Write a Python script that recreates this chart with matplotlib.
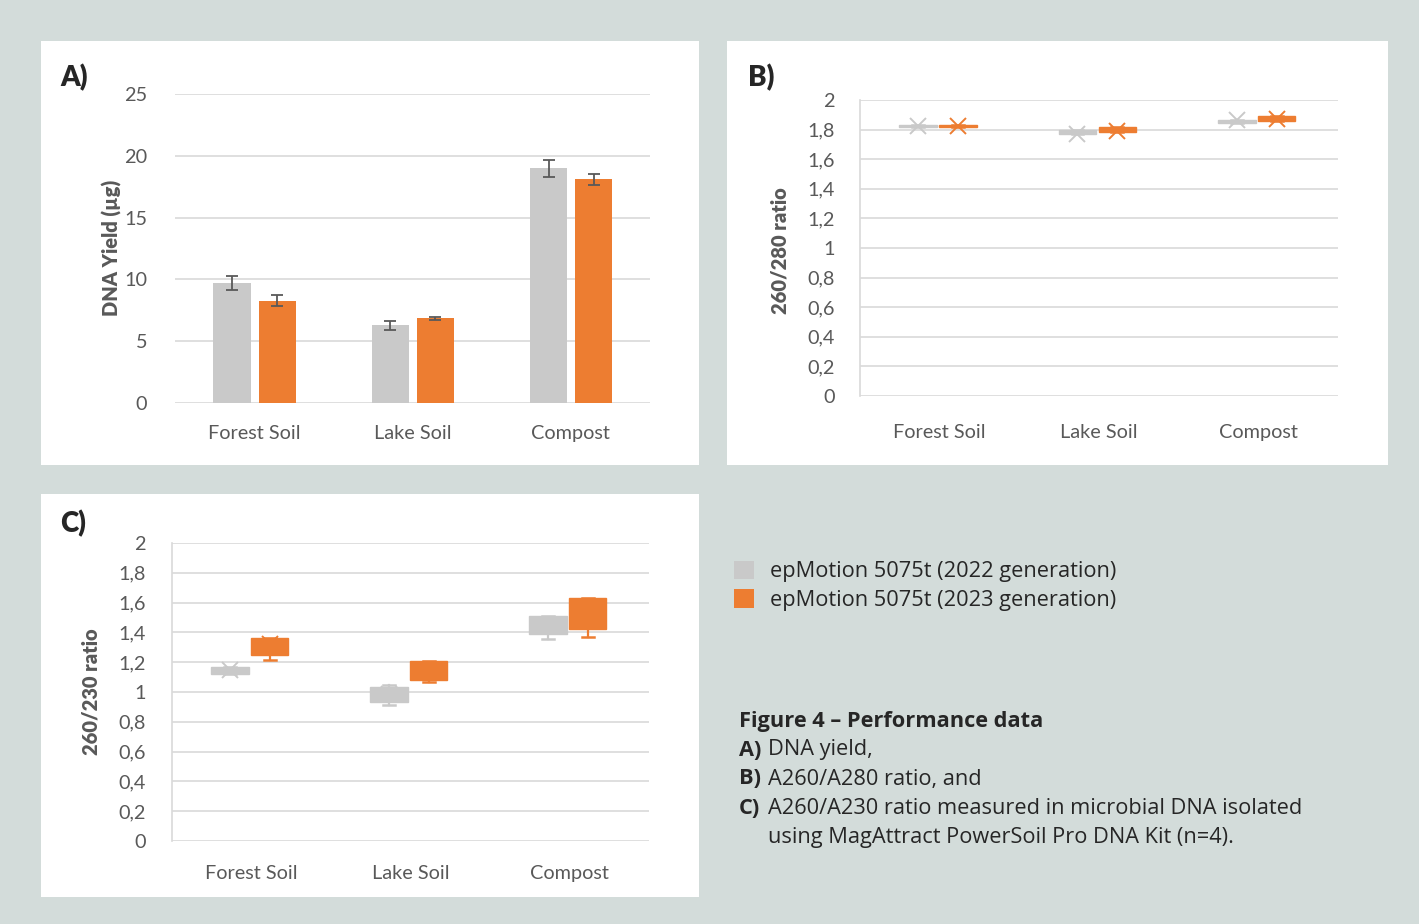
import matplotlib
matplotlib.use("Agg")
import matplotlib.pyplot as plt
from matplotlib.patches import Rectangle, Patch

# ---------------- data ----------------
categories = ["Forest Soil", "Lake Soil", "Compost"]
series = ["epMotion 5075t (2022 generation)", "epMotion 5075t (2023 generation)"]

# A) DNA yield (µg): mean and error
yield_2022 = [9.7, 6.3, 19.0]
yield_2022_err = [0.58, 0.36, 0.7]
yield_2023 = [8.27, 6.85, 18.1]
yield_2023_err = [0.46, 0.1, 0.45]
yticks_a = [0, 5, 10, 15, 20, 25]

# B) 260/280 ratio (box statistics)
b22_q1 = [1.818, 1.768, 1.845]
b22_q3 = [1.834, 1.797, 1.868]
b22_med = [1.826, 1.780, 1.857]
b22_mean = [1.826, 1.772, 1.865]
b22_lo = [1.818, 1.768, 1.845]
b22_hi = [1.834, 1.797, 1.868]
b23_q1 = [1.818, 1.786, 1.860]
b23_q3 = [1.834, 1.815, 1.890]
b23_med = [1.826, 1.800, 1.875]
b23_mean = [1.826, 1.790, 1.870]
b23_lo = [1.818, 1.786, 1.860]
b23_hi = [1.834, 1.815, 1.890]

# C) 260/230 ratio (box statistics)
c22_q1 = [1.12, 0.93, 1.386]
c22_q3 = [1.17, 1.035, 1.512]
c22_med = [1.145, 0.98, 1.45]
c22_mean = [1.148, 0.985, 1.45]
c22_lo = [1.12, 0.913, 1.353]
c22_hi = [1.17, 1.05, 1.512]
c23_q1 = [1.25, 1.08, 1.423]
c23_q3 = [1.36, 1.208, 1.628]
c23_med = [1.30, 1.14, 1.52]
c23_mean = [1.322, 1.14, 1.52]
c23_lo = [1.218, 1.067, 1.37]
c23_hi = [1.36, 1.208, 1.628]

ratio_ticks = [0, 0.2, 0.4, 0.6, 0.8, 1.0, 1.2, 1.4, 1.6, 1.8, 2.0]
ratio_ticklabels = ["0", "0,2", "0,4", "0,6", "0,8", "1", "1,2", "1,4", "1,6", "1,8", "2"]

# ---------------- style ----------------
BG = "#d3dcda"
GRAY = "#c9c9c9"
ORANGE = "#ed7d31"
GRID = "#d9d9d9"
TICK = "#595959"
TXT = "#262626"
FONT = ["Lato", "DejaVu Sans"]
CAPFONT = ["Open Sans", "DejaVu Sans"]
TSIZE = 14.3

plt.rcParams["font.family"] = FONT

W, H = 1419, 924
fig = plt.figure(figsize=(W / 100, H / 100), dpi=100, facecolor=BG)


def fx(px):
    return px / W


def fy(py):
    return 1 - py / H


def panel(x0, y0, x1, y1):
    fig.patches.append(Rectangle((fx(x0), fy(y1)), fx(x1 - x0), (y1 - y0) / H,
                                 transform=fig.transFigure, facecolor="white",
                                 edgecolor="none", zorder=-5))


def make_axes(x0, ytop, x1, ybot):
    ax = fig.add_axes([fx(x0), fy(ybot), fx(x1 - x0), (ybot - ytop) / H])
    ax.set_zorder(2)
    ax.set_facecolor("none")
    for s in ax.spines.values():
        s.set_visible(False)
    ax.grid(axis="y", color=GRID, linewidth=1.2)
    ax.set_axisbelow(True)
    ax.tick_params(axis="both", length=0, colors=TICK, labelsize=TSIZE)
    ax.set_xlim(-0.5, 2.5)
    ax.set_xticks(range(len(categories)))
    ax.set_xticklabels(categories)
    return ax


panel(41, 41, 699, 465)
panel(727, 41, 1388, 465)
panel(41, 494, 699, 897)

# ---------------- A ----------------
axA = make_axes(175, 94, 650, 403)
axA.set_ylim(0, 25)
axA.set_yticks(yticks_a)
axA.tick_params(axis="y", pad=20)
axA.tick_params(axis="x", pad=16)
off22, off23, bw = -0.14, 0.145, 0.235
xs = range(len(categories))
axA.bar([x + off22 for x in xs], yield_2022, width=bw, color=GRAY, zorder=2)
axA.bar([x + off23 for x in xs], yield_2023, width=bw, color=ORANGE, zorder=2)
axA.errorbar([x + off22 for x in xs], yield_2022, yerr=yield_2022_err, fmt="none",
             ecolor=TICK, elinewidth=1.3, capsize=4.5, capthick=1.3, zorder=3)
axA.errorbar([x + off23 for x in xs], yield_2023, yerr=yield_2023_err, fmt="none",
             ecolor=TICK, elinewidth=1.3, capsize=4.5, capthick=1.3, zorder=3)


def boxes(ax, q1, q3, med, mean, lo, hi, offset, color):
    stats = []
    for i in range(len(categories)):
        stats.append(dict(q1=q1[i], q3=q3[i], med=med[i], mean=mean[i],
                          whislo=lo[i], whishi=hi[i], fliers=[]))
    pos = [i + offset for i in range(len(categories))]
    ax.bxp(stats, positions=pos, widths=0.235, patch_artist=True, showmeans=True,
           showfliers=False, capwidths=0.075, manage_ticks=False,
           boxprops=dict(facecolor=color, edgecolor=color, linewidth=1),
           medianprops=dict(color=color, linewidth=1),
           whiskerprops=dict(color=color, linewidth=1.6),
           capprops=dict(color=color, linewidth=1.8),
           meanprops=dict(marker="x", markersize=12, markeredgewidth=1.4,
                          markeredgecolor=color, markerfacecolor=color),
           zorder=3)


# ---------------- B ----------------
axB = make_axes(860, 100, 1338, 396)
axB.set_ylim(0, 2)
axB.set_yticks(ratio_ticks)
axB.set_yticklabels(ratio_ticklabels)
axB.spines["left"].set_visible(True)
axB.spines["left"].set_color(GRID)
axB.spines["left"].set_linewidth(1.2)
axB.tick_params(axis="y", pad=18)
axB.tick_params(axis="x", pad=20)
boxes(axB, b22_q1, b22_q3, b22_med, b22_mean, b22_lo, b22_hi, -0.135, GRAY)
boxes(axB, b23_q1, b23_q3, b23_med, b23_mean, b23_lo, b23_hi, 0.115, ORANGE)

# ---------------- C ----------------
axC = make_axes(172, 543, 649, 841)
axC.set_ylim(0, 2)
axC.set_yticks(ratio_ticks)
axC.set_yticklabels(ratio_ticklabels)
axC.spines["left"].set_visible(True)
axC.spines["left"].set_color(GRID)
axC.spines["left"].set_linewidth(1.2)
axC.tick_params(axis="y", pad=19)
axC.tick_params(axis="x", pad=17)
boxes(axC, c22_q1, c22_q3, c22_med, c22_mean, c22_lo, c22_hi, -0.135, GRAY)
boxes(axC, c23_q1, c23_q3, c23_med, c23_mean, c23_lo, c23_hi, 0.115, ORANGE)

# ---------------- labels ----------------
fig.text(fx(112), fy(248), "DNA Yield (µg)", rotation=90, ha="center", va="center",
         fontsize=14.5, fontweight="heavy", color=TICK)
fig.text(fx(780), fy(251), "260/280 ratio", rotation=90, ha="center", va="center",
         fontsize=14.5, fontweight="heavy", color=TICK)
fig.text(fx(91), fy(692), "260/230 ratio", rotation=90, ha="center", va="center",
         fontsize=14.5, fontweight="heavy", color=TICK)

fig.text(fx(60), fy(78), "A)", ha="left", va="center", fontsize=20, fontweight="heavy", color=TXT)
fig.text(fx(748), fy(78), "B)", ha="left", va="center", fontsize=20, fontweight="heavy", color=TXT)
fig.text(fx(60), fy(524), "C)", ha="left", va="center", fontsize=20, fontweight="heavy", color=TXT)

# ---------------- legend ----------------
handles = [Patch(facecolor=GRAY, edgecolor="none"), Patch(facecolor=ORANGE, edgecolor="none")]
fig.legend(handles, series, loc="upper left", bbox_to_anchor=(fx(727), fy(554)),
           frameon=False, prop=dict(family=CAPFONT, size=15.7), labelcolor=TXT,
           handlelength=0.95, handleheight=0.95, handletextpad=0.72, labelspacing=0.3,
           borderaxespad=0, borderpad=0.3)

# ---------------- caption ----------------
CS = 15.7
fig.text(fx(739), fy(721), "Figure 4 – Performance data", ha="left", va="center",
         fontsize=CS, fontweight="bold", family=CAPFONT, color=TXT)
cap_prefix = ["A)", "B)", "C)", ""]
cap_text = ["DNA yield,", "A260/A280 ratio, and",
            "A260/A230 ratio measured in microbial DNA isolated",
            "using MagAttract PowerSoil Pro DNA Kit (n=4)."]
cap_y = [750, 779, 809, 838]
for p, t, y in zip(cap_prefix, cap_text, cap_y):
    if p:
        fig.text(fx(739), fy(y), p, ha="left", va="center", fontsize=CS,
                 fontweight="bold", family=CAPFONT, color=TXT)
    fig.text(fx(768), fy(y), t, ha="left", va="center", fontsize=CS,
             family=CAPFONT, color=TXT)

fig.savefig("out.png", dpi=100, facecolor=BG)
